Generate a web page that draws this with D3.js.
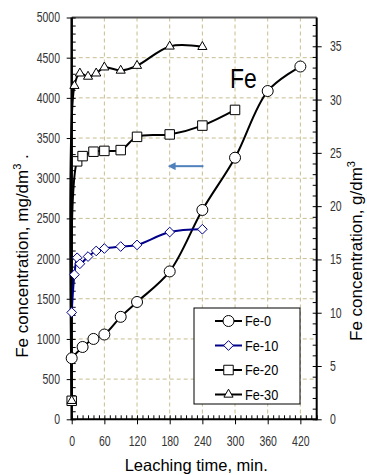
<!DOCTYPE html>
<html>
<head>
<meta charset="utf-8">
<script src="https://cdn.jsdelivr.net/npm/d3@7"></script>
<style>
  body { margin: 0; background: #fff; }
  svg { display: block; }
</style>
</head>
<body>
<div id="chart"></div>
<script>
// Data
const times0 = [0, 20, 40, 60, 90, 120, 180, 240, 300, 360, 420];
const fe0 = [760, 900, 1000, 1055, 1275, 1460, 1840, 2605, 3255, 4085, 4390];

const times10 = [0, 5, 10, 15, 30, 45, 60, 90, 120, 180, 240];
const fe10 = [1330, 1800, 2010, 1935, 2025, 2095, 2125, 2150, 2170, 2330, 2365];

const times20 = [0, 10, 20, 40, 60, 90, 120, 180, 240, 300];
const fe20 = [230, 3210, 3275, 3330, 3340, 3350, 3515, 3545, 3655, 3850];

const times30 = [0, 5, 15, 30, 45, 60, 90, 120, 180, 240];
const fe30 = [230, 4150, 4305, 4265, 4305, 4380, 4340, 4400, 4640, 4635];

const seriesNames = ["Fe-0", "Fe-10", "Fe-20", "Fe-30"];
const xTicks = [0, 60, 120, 180, 240, 300, 360, 420];
const yTicks = [0, 500, 1000, 1500, 2000, 2500, 3000, 3500, 4000, 4500, 5000];
const y2Ticks = [0, 5, 10, 15, 20, 25, 30, 35];

const width = 367;
const height = 475;
const plotLeft = 71.7, plotRight = 316.7, plotTop = 17.5, plotBottom = 419.3;

const x = d3.scaleLinear().domain([0, 450]).range([plotLeft, plotRight]);
const y = d3.scaleLinear().domain([0, 5000]).range([plotBottom, plotTop]);
const y2 = d3.scaleLinear().domain([0, 37.7]).range([plotBottom, plotTop]);

const svg = d3.select("#chart").append("svg")
  .attr("width", width)
  .attr("height", height);

const font = "'Liberation Sans', Arial, sans-serif";
const squeeze = 0.75; // tick labels are set in a condensed face

// grid
const grid = svg.append("g").attr("stroke", "#c9bd8f").attr("stroke-width", 1)
  .attr("stroke-dasharray", "4,3");
grid.selectAll("line.h").data(yTicks.filter(d => d > 0 && d < 5000)).join("line")
  .attr("class", "h")
  .attr("x1", plotLeft).attr("x2", plotRight)
  .attr("y1", d => y(d)).attr("y2", d => y(d));
grid.selectAll("line.v").data(xTicks.filter(d => d > 0)).join("line")
  .attr("class", "v")
  .attr("y1", plotTop).attr("y2", plotBottom)
  .attr("x1", d => x(d)).attr("x2", d => x(d));

// top border
svg.append("line").attr("x1", plotLeft).attr("x2", plotRight).attr("y1", plotTop).attr("y2", plotTop)
  .attr("stroke", "#595959").attr("stroke-width", 2);

function styleAxis(g) {
  g.select(".domain").remove();
  g.selectAll("line").attr("stroke", "#000").attr("stroke-width", 1);
  g.selectAll("text")
    .attr("font-family", font).attr("font-size", 14).attr("fill", "#333")
    .attr("transform", `scale(${squeeze},1)`);
}

// left axis: labels + outer part of major ticks
svg.append("g").attr("transform", `translate(${plotLeft},0)`)
  .call(d3.axisLeft(y).tickValues(yTicks).tickFormat(d3.format("d")).tickSize(5).tickPadding(10.6))
  .call(styleAxis);
// inner minor ticks
svg.append("g").attr("transform", `translate(${plotLeft},0)`)
  .call(d3.axisRight(y).tickValues(d3.range(0, 5001, 100)).tickSize(4).tickFormat(""))
  .call(styleAxis);

// bottom axis
svg.append("g").attr("transform", `translate(0,${plotBottom})`)
  .call(d3.axisBottom(x).tickValues(xTicks).tickSize(5).tickPadding(12))
  .call(styleAxis);
svg.append("g").attr("transform", `translate(0,${plotBottom})`)
  .call(d3.axisTop(x).tickValues(d3.range(0, 451, 10)).tickSize(4).tickFormat(""))
  .call(styleAxis);

// right axis
svg.append("g").attr("transform", `translate(${plotRight},0)`)
  .call(d3.axisRight(y2).tickValues(y2Ticks).tickSize(5).tickPadding(12.7))
  .call(styleAxis);
svg.append("g").attr("transform", `translate(${plotRight},0)`)
  .call(d3.axisLeft(y2).tickValues(d3.range(0, 38, 1)).tickSize(4).tickFormat(""))
  .call(styleAxis);

// axis lines
svg.append("line").attr("x1", plotLeft).attr("x2", plotLeft).attr("y1", plotTop).attr("y2", plotBottom + 1)
  .attr("stroke", "#000").attr("stroke-width", 2.5);
svg.append("line").attr("x1", plotRight).attr("x2", plotRight).attr("y1", plotTop).attr("y2", plotBottom + 1)
  .attr("stroke", "#000").attr("stroke-width", 2);
svg.append("line").attr("x1", plotLeft).attr("x2", plotRight).attr("y1", plotBottom).attr("y2", plotBottom)
  .attr("stroke", "#000").attr("stroke-width", 2);

// series
const series = [
  { name: seriesNames[0], t: times0, v: fe0, color: "#000", marker: "circle" },
  { name: seriesNames[1], t: times10, v: fe10, color: "#00008b", marker: "diamond" },
  { name: seriesNames[2], t: times20, v: fe20, color: "#000", marker: "square" },
  { name: seriesNames[3], t: times30, v: fe30, color: "#000", marker: "triangle" },
];

const symbols = {
  circle: d3.symbol().type(d3.symbolCircle).size(95),
  diamond: d3.symbol().type(d3.symbolDiamond2).size(60),
  square: d3.symbol().type(d3.symbolSquare).size(90),
  triangle: d3.symbol().type(d3.symbolTriangle2).size(60),
};

const line = d3.line()
  .x(d => x(d[0]))
  .y(d => y(d[1]))
  .curve(d3.curveCatmullRom.alpha(0.5));

series.forEach(s => {
  const pts = s.t.map((t, i) => [t, s.v[i]]);
  svg.append("path")
    .datum(pts)
    .attr("d", line)
    .attr("fill", "none")
    .attr("stroke", s.color)
    .attr("stroke-width", 2);
});

series.forEach(s => {
  const pts = s.t.map((t, i) => [t, s.v[i]]);
  svg.append("g").selectAll("path").data(pts).join("path")
    .attr("transform", d => `translate(${x(d[0])},${y(d[1])})`)
    .attr("d", symbols[s.marker])
    .attr("fill", "#fff")
    .attr("stroke", s.color)
    .attr("stroke-width", 1);
});

// blue arrow
svg.append("defs").append("marker")
  .attr("id", "arrow")
  .attr("viewBox", "0 0 10 10")
  .attr("refX", 2).attr("refY", 5)
  .attr("markerWidth", 4).attr("markerHeight", 4)
  .attr("orient", "auto")
  .append("path").attr("d", "M0,0 L10,5 L0,10 z").attr("fill", "#4f81bd");
svg.append("line")
  .attr("x1", x(242)).attr("x2", x(188))
  .attr("y1", y(3150)).attr("y2", y(3150))
  .attr("stroke", "#4f81bd").attr("stroke-width", 2)
  .attr("marker-end", "url(#arrow)");

// "Fe" annotation
svg.append("text")
  .attr("transform", "translate(230,88) scale(0.85,1)")
  .attr("font-family", font).attr("font-size", 27)
  .attr("fill", "#000")
  .text("Fe");

// legend
const legend = svg.append("g");
legend.append("rect")
  .attr("x", 194).attr("y", 308).attr("width", 106).attr("height", 96)
  .attr("fill", "#fff").attr("stroke", "#000").attr("stroke-width", 1);
series.forEach((s, i) => {
  const ly = 321 + i * 24.5;
  legend.append("line")
    .attr("x1", 215).attr("x2", 242).attr("y1", ly).attr("y2", ly)
    .attr("stroke", s.color).attr("stroke-width", 2);
  legend.append("path")
    .attr("transform", `translate(228.5,${ly})`)
    .attr("d", symbols[s.marker])
    .attr("fill", "#fff").attr("stroke", s.color).attr("stroke-width", 1);
  legend.append("text")
    .attr("transform", `translate(245,${ly}) scale(0.85,1)`)
    .attr("dy", "0.36em")
    .attr("font-family", font).attr("font-size", 15)
    .attr("fill", "#000")
    .text(s.name);
});

// axis titles
svg.append("text")
  .attr("x", (plotLeft + plotRight) / 2 + 2).attr("y", 471)
  .attr("text-anchor", "middle")
  .attr("font-family", font).attr("font-size", 16.5)
  .attr("fill", "#000")
  .text("Leaching time, min.");

const lt = svg.append("text")
  .attr("transform", "translate(28,256) rotate(-90)")
  .attr("text-anchor", "middle")
  .attr("font-family", font).attr("font-size", 17)
  .attr("fill", "#000");
lt.append("tspan").text("Fe concentration, mg/dm");
lt.append("tspan").attr("font-size", 11).attr("dy", -7).text("3");
lt.append("tspan").attr("dy", 7).text(" .");

const rt = svg.append("text")
  .attr("transform", "translate(362,251) rotate(-90)")
  .attr("text-anchor", "middle")
  .attr("font-family", font).attr("font-size", 17)
  .attr("fill", "#000");
rt.append("tspan").text("Fe concentration, g/dm");
rt.append("tspan").attr("font-size", 11).attr("dy", -7).text("3");
</script>
</body>
</html>
